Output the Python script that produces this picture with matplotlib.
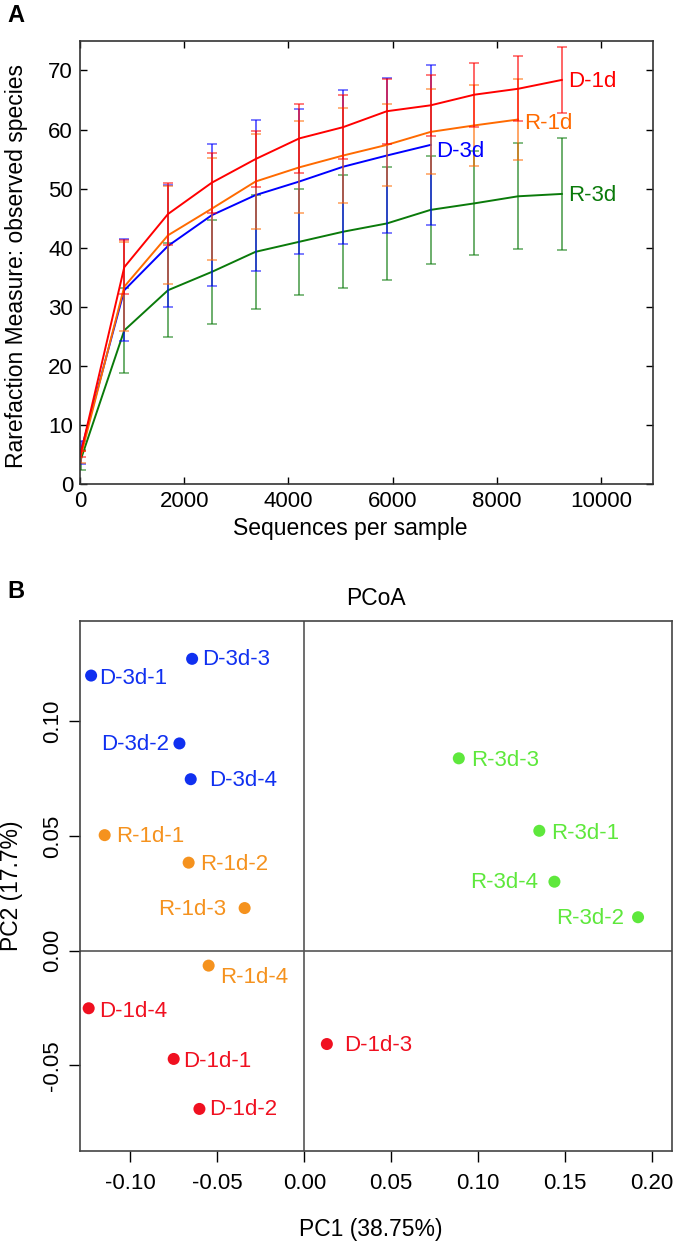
import matplotlib
matplotlib.use("Agg")
import matplotlib.pyplot as plt
import numpy as np

plt.rcParams['font.family'] = ['Liberation Sans', 'DejaVu Sans']

# ---- panel A: rarefaction curves ----
seq_depth = [10, 850, 1690, 2530, 3370, 4210, 5050, 5890, 6730, 7570, 8410, 9250]

d1d_mean = [5.0, 36.7, 45.7, 51.0, 55.0, 58.5, 60.4, 63.1, 64.1, 65.9, 66.9, 68.4]
d1d_sd = [0.5, 4.6, 5.2, 5.1, 4.7, 5.8, 5.4, 5.5, 5.2, 5.4, 5.5, 5.6]

r1d_mean = [4.5, 33.4, 42.1, 46.6, 51.2, 53.6, 55.6, 57.4, 59.6, 60.7, 61.7]
r1d_sd = [1.0, 7.5, 8.3, 8.6, 8.0, 7.8, 8.0, 6.9, 7.2, 6.9, 6.8]

d3d_mean = [5.3, 32.8, 40.3, 45.5, 48.9, 51.2, 53.7, 55.6, 57.4]
d3d_sd = [1.9, 8.6, 10.3, 12.0, 12.8, 12.2, 13.0, 13.1, 13.5]

r3d_mean = [4.0, 26.0, 32.8, 35.9, 39.3, 41.0, 42.7, 44.1, 46.4, 47.5, 48.7, 49.1]
r3d_sd = [1.7, 7.2, 8.0, 8.8, 9.6, 9.0, 9.6, 9.5, 9.2, 8.8, 9.0, 9.5]

curve_names = ["R-3d", "D-3d", "R-1d", "D-1d"]
curve_means = [r3d_mean, d3d_mean, r1d_mean, d1d_mean]
curve_sds = [r3d_sd, d3d_sd, r1d_sd, d1d_sd]
curve_colors = ["#0a7a0a", "#0000ff", "#ff6a00", "#ff0000"]
curve_label_dy = {"R-3d": -2, "D-3d": -7, "R-1d": -4, "D-1d": -2}

# ---- panel B: PCoA ----
pcoa_names = ["D-3d-1", "D-3d-2", "D-3d-3", "D-3d-4",
              "R-1d-1", "R-1d-2", "R-1d-3", "R-1d-4",
              "D-1d-1", "D-1d-2", "D-1d-3", "D-1d-4",
              "R-3d-1", "R-3d-2", "R-3d-3", "R-3d-4"]
pc1 = [-0.1226, -0.0718, -0.0645, -0.0653,
       -0.1148, -0.0665, -0.0343, -0.0550,
       -0.0751, -0.0603, 0.0130, -0.1240,
       0.1352, 0.1920, 0.0889, 0.1439]
pc2 = [0.1200, 0.0904, 0.1273, 0.0748,
       0.0504, 0.0384, 0.0186, -0.0065,
       -0.0472, -0.0690, -0.0407, -0.0251,
       0.0523, 0.0146, 0.0839, 0.0301]
group_colors = {"D-3d": "#1030f0", "R-1d": "#f5921e", "D-1d": "#f01020", "R-3d": "#5ee83c"}

# label placement (pixel offsets, alignment)
label_pos = {
    "D-3d-1": (8, -3, "left"), "D-3d-2": (-10, -1, "right"), "D-3d-3": (10, -1, "left"),
    "D-3d-4": (18, -1, "left"), "R-1d-1": (11, -1, "left"), "R-1d-2": (11, -2, "left"),
    "R-1d-3": (-18, -1, "right"), "R-1d-4": (11, -12, "left"), "D-1d-1": (9, -3, "left"),
    "D-1d-2": (10, -1, "left"), "D-1d-3": (17, -1, "left"), "D-1d-4": (10, -3, "left"),
    "R-3d-1": (12, -3, "left"), "R-3d-2": (-14, -1, "right"), "R-3d-3": (12, -2, "left"),
    "R-3d-4": (-16, -1, "right"),
}

fig = plt.figure(figsize=(6.75, 12.48), dpi=100)

# panel A
ax1 = fig.add_axes([0.1185, 0.6122, 0.8489, 0.3550])
for name, m, s, c in zip(curve_names, curve_means, curve_sds, curve_colors):
    xs = seq_depth[:len(m)]
    ax1.errorbar(xs, m, yerr=s, fmt='none', ecolor=c, alpha=0.65,
                 elinewidth=1.3, capsize=3.5, capthick=1.1)
    ax1.plot(xs, m, color=c, lw=1.4)
    ax1.annotate(name, (xs[-1], m[-1]), xytext=(6, curve_label_dy[name]),
                 textcoords='offset pixels', color=c, fontsize=16,
                 ha='left', va='center')

ax1.set_xlim(0, 11000)
ax1.set_ylim(0, 75)
ax1.set_xticks(range(0, 10001, 2000))
ax1.set_yticks(range(0, 71, 10))
ax1.tick_params(direction='in', length=5, width=1, top=True, right=True,
                labelsize=16, pad=5)
for sp in ax1.spines.values():
    sp.set_color('#333333')
    sp.set_linewidth(1.2)
ax1.set_xlabel("Sequences per sample", fontsize=16.5)
ax1.set_ylabel("Rarefaction Measure: observed species", fontsize=16.5)
ax1.xaxis.set_label_coords(0.471, -0.075)
ax1.yaxis.set_label_coords(-0.091, 0.492)

fig.text(16 / 675, 1 - 15 / 1248, "A", fontsize=17, fontweight='bold',
         ha='center', va='center')

# panel B
ax2 = fig.add_axes([0.1185, 0.0780, 0.8775, 0.4246])
ax2.axhline(0, color='#555555', lw=1.2, zorder=1)
ax2.axvline(0, color='#555555', lw=1.2, zorder=1)
for name, x, y in zip(pcoa_names, pc1, pc2):
    c = group_colors[name[:4]]
    ax2.scatter(x, y, s=75, color=c, edgecolors='none', zorder=3)
    dx, dy, ha = label_pos[name]
    ax2.annotate(name, (x, y), xytext=(dx, dy), textcoords='offset pixels',
                 color=c, fontsize=16, ha=ha, va='center')

ax2.set_xlim(-0.129, 0.2117)
ax2.set_ylim(-0.0872, 0.1439)
ax2.set_xticks([-0.10, -0.05, 0.00, 0.05, 0.10, 0.15, 0.20])
ax2.set_xticklabels(["-0.10", "-0.05", "0.00", "0.05", "0.10", "0.15", "0.20"])
ax2.set_yticks([-0.05, 0.00, 0.05, 0.10])
ax2.set_yticklabels(["-0.05", "0.00", "0.05", "0.10"], rotation=90, va='center')
ax2.tick_params(direction='out', length=8, width=1, labelsize=16)
ax2.tick_params(axis='x', pad=8)
ax2.tick_params(axis='y', pad=4)
for sp in ax2.spines.values():
    sp.set_color('#444444')
    sp.set_linewidth(1.2)
ax2.set_title("PCoA", fontsize=16.5, pad=11)
ax2.set_xlabel("PC1 (38.75%)", fontsize=16.5)
ax2.set_ylabel("PC2 (17.7%)", fontsize=16.5)
ax2.xaxis.set_label_coords(0.4916, -0.127)
ax2.yaxis.set_label_coords(-0.096, 0.5)

fig.text(15.5 / 675, 1 - 591 / 1248, "B", fontsize=17, fontweight='bold',
         ha='center', va='center')

fig.savefig("out.png", dpi=100)
